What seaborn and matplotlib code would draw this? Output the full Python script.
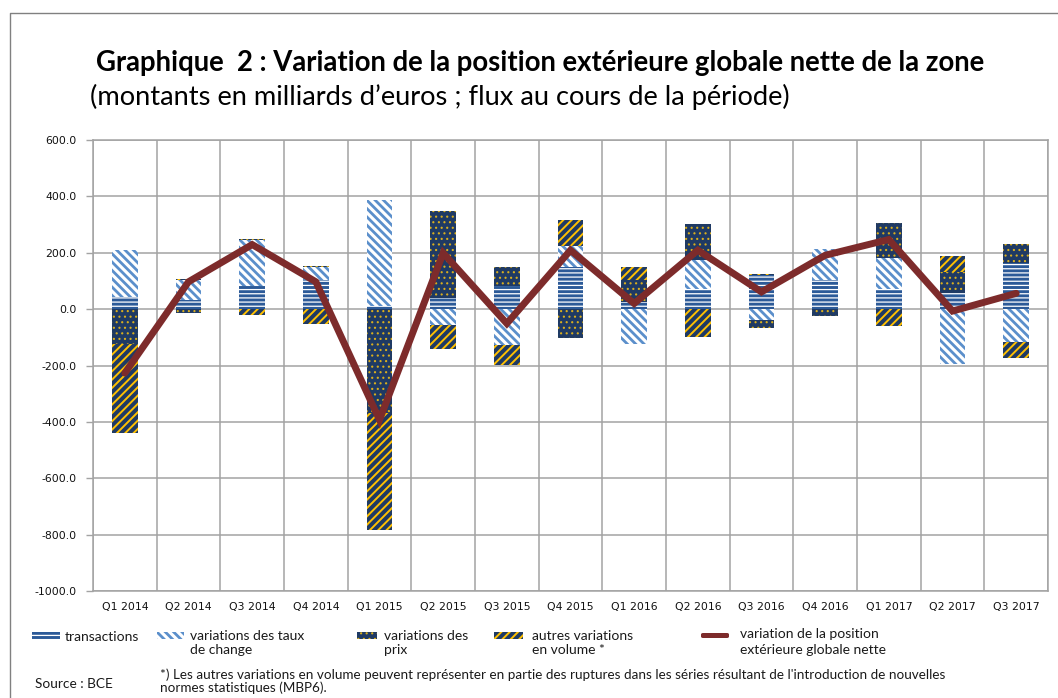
import numpy as np
import pandas as pd
import matplotlib
matplotlib.use("Agg")
import matplotlib.pyplot as plt
import matplotlib.patches as mpatches
from matplotlib.lines import Line2D
from matplotlib.ticker import FixedLocator, FuncFormatter
import seaborn as sns

# ---------------- data (milliards d'euros) ----------------
quarters = ["Q1 2014", "Q2 2014", "Q3 2014", "Q4 2014", "Q1 2015", "Q2 2015", "Q3 2015",
            "Q4 2015", "Q1 2016", "Q2 2016", "Q3 2016", "Q4 2016", "Q1 2017", "Q2 2017", "Q3 2017"]
transactions = [44, 32, 81, 103, 10, 38, 81, 150, 26, 73, 120, 103, 73, 56, 162]
fx_variations = [165, 71, 166, 45, 378, -57, -127, 73, -125, 100, -39, 112, 110, -193, -118]
price_variations = [-125, -15, 3, 4, -370, 309, 67, -104, 79, 130, -27, -25, 124, 76, 70]
other_volume = [-315, 5, -21, -54, -412, -86, -71, 92, 43, -98, 5, 0, -59, 57, -57]
net_position_change = [-227, 97, 229, 97, -393, 199, -51, 209, 20, 209, 61, 191, 247, -7, 56]

y_ticks = [-1000, -800, -600, -400, -200, 0, 200, 400, 600]

legend_labels = ["transactions", "variations des taux\nde change", "variations des\nprix",
                 "autres variations\nen volume *", "variation de la position\nextérieure globale nette"]

# ---------------- styles ----------------
NAVY = "#1F3A64"
styles = [
    dict(face="#2C5A98", hatch_color="white", hatch="----", hlw=0.9),        # transactions
    dict(face="white", hatch_color="#5B8FCB", hatch="\\\\\\\\", hlw=2.0),    # change
    dict(face=NAVY, hatch_color="#D9AE1E", hatch="...", hlw=0.8),            # prix
    dict(face=NAVY, hatch_color="#FFC000", hatch="////", hlw=1.4),           # autres
]
LINE_COLOR = "#7D2B2B"
GRID = "#A3A3A3"

sns.set_theme(style="white")
plt.rcParams["font.family"] = ["DejaVu Sans"]
plt.rcParams["axes.unicode_minus"] = False

W, H = 1058, 698
fig = plt.figure(figsize=(W / 100, H / 100), dpi=100)
fig.patch.set_facecolor("white")
ax = fig.add_axes([93 / W, 1 - 591 / H, (1048 - 93) / W, (591 - 140) / H])
ax.set_facecolor("white")
ax.set_axisbelow(True)

series_values = [transactions, fx_variations, price_variations, other_volume]
n = len(quarters)
pos_base = np.zeros(n)
neg_base = np.zeros(n)
for vals, st in zip(series_values, styles):
    v = np.asarray(vals, dtype=float)
    bottom = np.where(v >= 0, pos_base, neg_base)
    df = pd.DataFrame({"quarter": quarters, "value": v})
    start = len(ax.patches)
    sns.barplot(data=df, x="quarter", y="value", order=quarters, bottom=bottom,
                color=st["face"], saturation=1, width=0.4, errorbar=None,
                edgecolor=st["hatch_color"], linewidth=0, hatch=st["hatch"],
                ax=ax, zorder=2)
    for p in ax.patches[start:]:
        p.set_facecolor(st["face"])
        p.set_edgecolor(st["hatch_color"])
        p.set_linewidth(0)
        if hasattr(p, "set_hatch_linewidth"):
            p.set_hatch_linewidth(st["hlw"])
    pos_base += np.where(v > 0, v, 0)
    neg_base += np.where(v < 0, v, 0)

line_df = pd.DataFrame({"quarter": quarters, "value": net_position_change})
sns.lineplot(data=line_df, x="quarter", y="value", sort=False, color=LINE_COLOR,
             linewidth=5.0, ax=ax, zorder=3, solid_joinstyle="miter")

ax.set_xlim(-0.5, n - 0.5)
ax.set_ylim(-1000, 600)
ax.set_xlabel("")
ax.set_ylabel("")
ax.yaxis.set_major_locator(FixedLocator(y_ticks))
ax.yaxis.set_major_formatter(FuncFormatter(lambda v, p: f"{v:.1f}"))
ax.xaxis.set_minor_locator(FixedLocator(np.arange(-0.5, n, 1.0)))
ax.yaxis.grid(True, color=GRID, linewidth=1.1)
ax.xaxis.grid(True, which="minor", color=GRID, linewidth=1.1)
ax.xaxis.grid(False, which="major")
ax.tick_params(axis="x", which="both", length=0, pad=8, labelsize=7.8, labelcolor="#111111")
ax.tick_params(axis="y", length=5, width=1.0, color=GRID, pad=7, labelsize=7.8,
               labelcolor="#111111", left=True)
for s in ax.spines.values():
    s.set_color(GRID)
    s.set_linewidth(1.1)
    s.set_visible(True)

# ---------------- outer frame ----------------
fig.add_artist(Line2D([10 / W, 10 / W, 1.0], [0.0, 1 - 13 / H, 1 - 13 / H],
                      transform=fig.transFigure, color="#808080", linewidth=1.0))

# ---------------- titles ----------------
fig.text(96 / W, 1 - 63 / H, "Graphique  2 : Variation de la position extérieure globale nette de la zone",
         fontsize=19.8, fontweight="bold", family=["Lato", "DejaVu Sans"], va="center", ha="left",
         color="black")
fig.text(90 / W, 1 - 97 / H, "(montants en milliards d’euros ; flux au cours de la période)",
         fontsize=19.6, family=["Lato", "DejaVu Sans"], va="center", ha="left", color="black")

# ---------------- legend ----------------
leg_font = dict(fontsize=10, family=["Lato", "DejaVu Sans"], color="#1A1A1A", va="center", ha="left",
                linespacing=1.3)
patch_specs = [(32, 60, 65), (157, 184, 190), (357, 377, 384), (494, 523, 532)]
y_patch_top, y_patch_bot = 632, 639
for (x0, x1, tx), st, lab in zip(patch_specs, styles, legend_labels[:4]):
    r = mpatches.Rectangle((x0 / W, 1 - y_patch_bot / H), (x1 - x0) / W, (y_patch_bot - y_patch_top) / H,
                           transform=fig.transFigure, facecolor=st["face"], edgecolor=st["hatch_color"],
                           linewidth=0, hatch=st["hatch"])
    if hasattr(r, "set_hatch_linewidth"):
        r.set_hatch_linewidth(st["hlw"])
    fig.add_artist(r)
    yc = 637 if "\n" not in lab else 643
    fig.text(tx / W, 1 - yc / H, lab, **leg_font)
fig.add_artist(mpatches.FancyBboxPatch((701 / W, 1 - 638 / H), 28 / W, 5 / H,
                                       boxstyle="round,pad=0,rounding_size=0.002",
                                       transform=fig.transFigure, facecolor=LINE_COLOR,
                                       edgecolor="none"))
fig.text(740 / W, 1 - 642 / H, legend_labels[4], **leg_font)

# ---------------- footer ----------------
fig.text(35 / W, 1 - 684 / H, "Source : BCE", fontsize=9.8, family=["Lato", "DejaVu Sans"],
         va="center", ha="left", color="#1A1A1A")
fig.text(160 / W, 1 - 668 / H,
         "*) Les autres variations en volume peuvent représenter en partie des ruptures dans les séries "
         "résultant de l'introduction de nouvelles\nnormes statistiques (MBP6).",
         fontsize=9.7, family=["Lato", "DejaVu Sans"], va="top", ha="left", color="#1A1A1A",
         linespacing=1.12)

fig.savefig("out.png", dpi=100, facecolor="white")
